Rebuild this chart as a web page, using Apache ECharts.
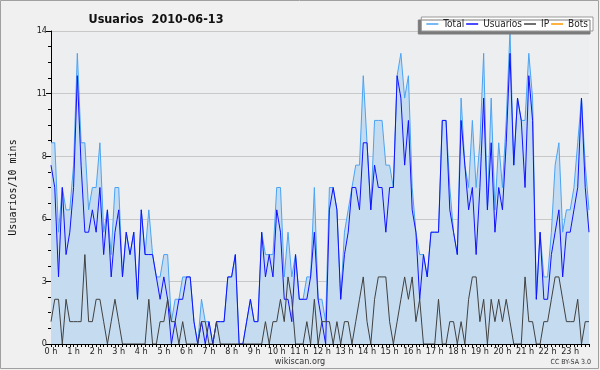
<!DOCTYPE html>
<html><head><meta charset="utf-8">
<script src="https://cdn.jsdelivr.net/npm/echarts@6/dist/echarts.min.js"></script>
<style>html,body{margin:0;padding:0;background:#f0f0f0}#c{width:600px;height:370px}</style>
</head><body><div id="c"></div>
<script>
const titleText = 'Usuarios  2010-06-13';
const yAxisName = 'Usuarios/10 mins';
const hourLabels = ['0 h','1 h','2 h','3 h','4 h','5 h','6 h','7 h','8 h','9 h','10 h','11 h','12 h','13 h','14 h','15 h','16 h','17 h','18 h','19 h','20 h','21 h','22 h','23 h'];
const totalVals = [9,9,5,7,6,6,8,13,9,9,6,7,7,9,5,6,4,7,7,3,5,4,5,2,6,4,6,4,3,3,4,4,1,2,2,3,
  3,3,1,0,2,1,1,0,1,1,1,3,3,4,0,0,1,2,1,1,5,4,4,4,7,7,3,5,3,4,2,2,3,3,7,2,
  2,1,7,7,6,2,5,6,7,8,8,12,9,6,10,10,10,8,8,7,12,13,11,12,7,5,4,4,3,5,5,5,10,10,
  7,5,4,11,8,7,10,7,9,13,6,11,6,9,7,10,14,8,11,10,10,13,11,2,5,3,3,5,8,9,5,6,6,7,9,11,8,6];
const usuariosVals = [8,7,3,7,4,5,7,12,8,5,5,6,5,7,4,6,3,5,6,3,5,4,5,2,6,4,4,4,3,2,3,2,0,1,2,2,
  3,3,1,0,1,0,1,0,1,1,1,3,3,4,0,0,1,2,1,1,5,3,4,3,6,5,2,2,1,4,2,2,2,3,5,2,
  1,0,6,7,6,2,4,5,7,7,6,9,9,6,8,7,7,5,7,7,12,11,8,10,6,5,2,4,3,5,5,5,10,10,
  6,5,4,10,8,6,7,4,7,11,6,9,5,7,6,9,13,8,11,10,7,12,10,2,5,2,2,4,5,6,3,5,5,6,7,11,7,5];
const ipVals = [1,2,2,0,2,1,1,1,1,4,1,1,2,2,1,0,1,2,1,0,0,0,0,0,0,0,2,0,0,1,1,2,1,1,0,1,
  0,0,0,0,1,1,0,0,1,0,0,0,0,0,0,0,0,0,0,0,0,1,0,1,1,2,1,3,2,0,0,0,1,0,2,0,
  1,1,1,0,1,0,1,1,0,1,2,3,1,0,2,3,3,3,1,0,1,2,3,2,3,1,2,0,0,0,0,2,0,0,
  1,1,0,1,0,2,3,3,1,2,0,2,1,2,1,2,1,0,0,0,3,1,1,0,0,1,1,2,3,3,2,1,1,1,2,0,1,1];
const botsVals = new Array(144).fill(0);

const categories = [];
for (let i = 0; i < 144; i++) categories.push(i);

const chart = echarts.init(document.getElementById('c'), null, {renderer: 'canvas'});
const FONT = 'DejaVu Sans Condensed, DejaVu Sans';
chart.setOption({
  backgroundColor: '#f0f0f0',
  animation: false,
  title: {
    text: titleText, left: 151, top: 8, textAlign: 'center',
    textStyle: {fontFamily: FONT, fontWeight: 'bold', fontSize: 12.5, color: '#111'}
  },
  legend: {
    right: 7, top: 17, itemGap: 2, itemWidth: 12, itemHeight: 1.5, icon: 'rect',
    padding: [2, 5, 2, 5],
    backgroundColor: '#ffffff', borderColor: '#999', borderWidth: 1,
    shadowColor: '#7a7a7a', shadowBlur: 0, shadowOffsetX: -3, shadowOffsetY: 3,
    textStyle: {fontFamily: FONT, fontSize: 10, color: '#222'},
    data: ['Total', 'Usuarios', 'IP', 'Bots']
  },
  grid: {left: 47, right: 11, top: 31, bottom: 26, show: true, backgroundColor: '#eceef0', borderWidth: 0},
  xAxis: {
    type: 'category', data: categories, boundaryGap: false, z: 5,
    axisLine: {lineStyle: {color: '#000', width: 1}},
    axisTick: {interval: 0, length: 3, lineStyle: {color: '#000'}},
    axisLabel: {
      interval: 5, margin: 3, fontFamily: FONT, fontSize: 9, color: '#222',
      formatter: (v, i) => hourLabels[Math.floor(i / 6)]
    },
    splitLine: {show: false}
  },
  yAxis: {
    type: 'value', min: 0, max: 14, interval: 2.8,
    name: yAxisName, nameLocation: 'middle', nameGap: 33, nameRotate: 90,
    nameTextStyle: {fontFamily: 'DejaVu Sans Mono', fontSize: 10, color: '#111'},
    axisLine: {show: true, lineStyle: {color: '#000'}},
    axisTick: {show: true, length: 5, lineStyle: {color: '#000'}},
    minorTick: {show: true, splitNumber: 4, length: 3, lineStyle: {color: '#000'}},
    axisLabel: {margin: 4, fontFamily: FONT, fontSize: 9, color: '#222', formatter: v => String(Math.round(v))},
    splitLine: {show: true, lineStyle: {color: '#c8c8c8', width: 1}}
  },
  series: [
    {name: 'Total', type: 'line', data: totalVals, showSymbol: false, symbol: 'none',
     lineStyle: {color: '#4aa3f3', width: 1}, itemStyle: {color: '#4aa3f3'},
     areaStyle: {color: '#c5dcf0', opacity: 1}, z: 2},
    {name: 'Usuarios', type: 'line', data: usuariosVals, showSymbol: false, symbol: 'none',
     lineStyle: {color: '#1010ff', width: 1}, itemStyle: {color: '#1010ff'}, z: 3},
    {name: 'IP', type: 'line', data: ipVals, showSymbol: false, symbol: 'none',
     lineStyle: {color: '#404040', width: 1}, itemStyle: {color: '#404040'}, z: 4},
    {name: 'Bots', type: 'line', data: botsVals, showSymbol: false, symbol: 'none',
     lineStyle: {color: '#ff9900', width: 1}, itemStyle: {color: '#ff9900'}, z: 1}
  ],
  graphic: [
    {type: 'rect', shape: {x: 0.5, y: 0.5, width: 598, height: 368}, style: {fill: 'none', stroke: '#a0a0a0', lineWidth: 1}, z: 100},
    {type: 'text', left: 'center', top: 357, style: {text: 'wikiscan.org', fontFamily: FONT, fontSize: 9, fill: '#333'}},
    {type: 'text', right: 9, top: 359, style: {text: 'CC BY-SA 3.0', fontFamily: FONT, fontSize: 7, fill: '#333'}}
  ]
});
</script></body></html>
